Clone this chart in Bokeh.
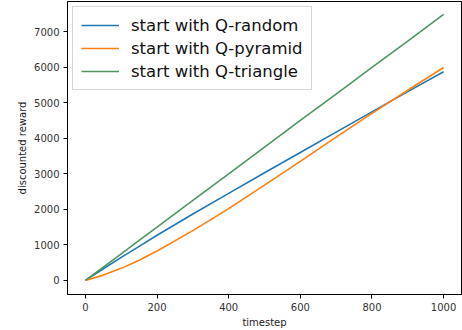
from bokeh.plotting import figure
from bokeh.models import Range1d, FixedTicker, Legend, LegendItem
from bokeh.embed import file_html
from bokeh.resources import INLINE

timestep = [0, 50, 100, 150, 200, 300, 400, 500, 600, 700, 800, 900, 1000]
q_random = [0, 330, 650, 960, 1270, 1870, 2450, 3030, 3600, 4170, 4740, 5310, 5870]
q_pyramid = [0, 150, 340, 570, 830, 1400, 2020, 2680, 3350, 4030, 4700, 5350, 5990]
q_triangle = [0, 375, 750, 1125, 1500, 2250, 3000, 3750, 4500, 5240, 5990, 6730, 7480]

x_ticks = [0, 200, 400, 600, 800, 1000]
y_ticks = [0, 1000, 2000, 3000, 4000, 5000, 6000, 7000]

FONT = "DejaVu Sans"

p = figure(width=462, height=330, output_backend="svg", toolbar_location=None,
           x_range=Range1d(-50, 1050), y_range=Range1d(-395, 7845),
           min_border_left=67, min_border_right=1, min_border_top=1,
           min_border_bottom=34)
p.background_fill_color = "white"
p.border_fill_color = "white"
p.outline_line_color = "black"
p.outline_line_width = 1
p.xgrid.visible = False
p.ygrid.visible = False

r1 = p.line(timestep, q_random, line_color="#1f77b4", line_width=1.6)
r2 = p.line(timestep, q_pyramid, line_color="#ff7f0e", line_width=1.6)
r3 = p.line(timestep, q_triangle, line_color="#4d9660", line_width=1.6)

for ax, ticks, lab in ((p.xaxis[0], x_ticks, "timestep"), (p.yaxis[0], y_ticks, "discounted reward")):
    ax.ticker = FixedTicker(ticks=ticks)
    ax.axis_label = lab
    ax.axis_label_text_font = FONT
    ax.axis_label_text_font_size = "10px"
    ax.axis_label_text_font_style = "normal"
    ax.axis_label_text_color = "#222222"
    ax.axis_label_standoff = 3
    ax.major_label_text_font = FONT
    ax.major_label_text_font_size = "10px"
    ax.major_label_text_color = "#333333"
    ax.major_label_standoff = 4
    ax.axis_line_color = "black"
    ax.major_tick_line_color = "black"
    ax.major_tick_out = 4
    ax.major_tick_in = 0
    ax.minor_tick_line_color = None

legend = Legend(items=[
    LegendItem(label="start with Q-random", renderers=[r1]),
    LegendItem(label="start with Q-pyramid", renderers=[r2]),
    LegendItem(label="start with Q-triangle", renderers=[r3]),
], location="top_left")
legend.label_text_font = FONT
legend.label_text_font_size = "16.5px"
legend.label_text_color = "#111111"
legend.glyph_width = 38
legend.glyph_height = 20
legend.label_height = 20
legend.spacing = 3
legend.padding = 8
legend.margin = 5
legend.label_standoff = 12
legend.border_line_color = "#cccccc"
legend.border_line_alpha = 0.8
legend.background_fill_alpha = 0.8
p.add_layout(legend)

open("out.html", "w").write(file_html(p, INLINE))
